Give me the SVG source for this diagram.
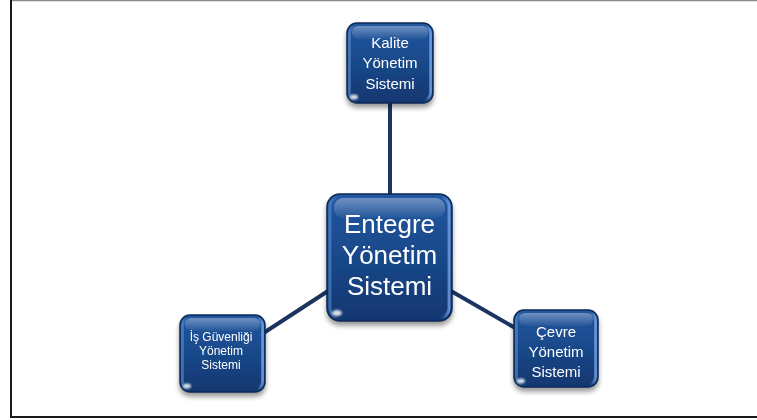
<svg xmlns="http://www.w3.org/2000/svg" width="757" height="420" viewBox="0 0 757 420">
  <defs>
    <linearGradient id="bodyFill" x1="0" y1="0" x2="0" y2="1">
      <stop offset="0" stop-color="#2257a0"/>
      <stop offset="0.45" stop-color="#1a4a8c"/>
      <stop offset="1" stop-color="#113670"/>
    </linearGradient>
    <linearGradient id="edgeFill" x1="0" y1="0" x2="1" y2="0">
      <stop offset="0" stop-color="#6b9ee0" stop-opacity="0.5"/>
      <stop offset="0.07" stop-color="#6b9ee0" stop-opacity="0"/>
      <stop offset="0.93" stop-color="#6b9ee0" stop-opacity="0"/>
      <stop offset="1" stop-color="#7aaaf0" stop-opacity="0.75"/>
    </linearGradient>
    <linearGradient id="gloss" x1="0" y1="0" x2="0" y2="1">
      <stop offset="0" stop-color="#ffffff" stop-opacity="0.35"/>
      <stop offset="1" stop-color="#ffffff" stop-opacity="0.03"/>
    </linearGradient>
    <filter id="shadow" x="-20%" y="-20%" width="140%" height="150%">
      <feGaussianBlur in="SourceAlpha" stdDeviation="2.5"/>
      <feOffset dx="0" dy="4" result="b"/>
      <feComponentTransfer><feFuncA type="linear" slope="0.4"/></feComponentTransfer>
      <feMerge><feMergeNode/><feMergeNode in="SourceGraphic"/></feMerge>
    </filter>
    <filter id="soft" x="-50%" y="-50%" width="200%" height="200%">
      <feGaussianBlur stdDeviation="1"/>
    </filter>
  </defs>
  <style>
    .link { stroke: #1b3560; stroke-width: 4; stroke-linecap: butt; }
    .body { fill: url(#bodyFill); stroke: #0c2a55; stroke-width: 1.5; }
    .edge { fill: none; stroke: url(#edgeFill); stroke-width: 3; }
    .gloss { fill: url(#gloss); }
    .glint { fill: #ffffff; opacity: 0.85; }
    .label { fill: #ffffff; font-family: "Liberation Sans", "Open Sans", Arial, sans-serif; text-anchor: middle; }
  </style>

  <!-- page frame -->
  <rect x="0" y="0" width="757" height="420" fill="#ffffff"/>
  <line x1="11" y1="0.5" x2="757" y2="0.5" stroke="#8a8a8a" stroke-width="1.5"/>
  <line x1="11" y1="0" x2="11" y2="418" stroke="#1a1a1a" stroke-width="2"/>
  <line x1="10" y1="417" x2="757" y2="417" stroke="#1a1a1a" stroke-width="2"/>

  <!-- connectors -->
  <g id="connectors">
    <line class="link" x1="390" y1="102" x2="390" y2="195"/>
    <line class="link" x1="328" y1="291" x2="262" y2="334"/>
    <line class="link" x1="451" y1="291" x2="517" y2="329"/>
  </g>

  <!-- central node -->
  <g id="node-entegre" filter="url(#shadow)">
    <rect class="body" x="327" y="194" width="125" height="127" rx="13"/>
    <rect class="edge" x="330" y="197" width="119" height="121" rx="10"/>
    <rect class="gloss" x="334" y="198" width="111" height="20" rx="9"/>
    <ellipse class="glint" cx="337" cy="313" rx="5" ry="3" filter="url(#soft)"/>
    <text class="label" font-size="26"><tspan x="389.5" y="233">Entegre</tspan><tspan x="389.5" y="264">Yönetim</tspan><tspan x="389.5" y="295">Sistemi</tspan></text>
  </g>

  <!-- top node -->
  <g id="node-kalite" filter="url(#shadow)">
    <rect class="body" x="347" y="23" width="86" height="80" rx="10"/>
    <rect class="edge" x="349.5" y="25.5" width="81" height="75" rx="8"/>
    <rect class="gloss" x="352" y="26" width="76" height="13" rx="6"/>
    <ellipse class="glint" cx="354" cy="97" rx="4" ry="2.5" filter="url(#soft)"/>
    <text class="label" font-size="15"><tspan x="390" y="48">Kalite</tspan><tspan x="390" y="68">Yönetim</tspan><tspan x="390" y="89">Sistemi</tspan></text>
  </g>

  <!-- lower left node -->
  <g id="node-is-guvenligi" filter="url(#shadow)">
    <rect class="body" x="180" y="315" width="85" height="77" rx="10"/>
    <rect class="edge" x="182.5" y="317.5" width="80" height="72" rx="8"/>
    <rect class="gloss" x="185" y="318" width="75" height="13" rx="6"/>
    <ellipse class="glint" cx="187" cy="386" rx="4" ry="2.5" filter="url(#soft)"/>
    <text class="label" font-size="12"><tspan x="221" y="341">İş Güvenliği</tspan><tspan x="221" y="355">Yönetim</tspan><tspan x="221" y="369">Sistemi</tspan></text>
  </g>

  <!-- lower right node -->
  <g id="node-cevre" filter="url(#shadow)">
    <rect class="body" x="514" y="310" width="84" height="77" rx="10"/>
    <rect class="edge" x="516.5" y="312.5" width="79" height="72" rx="8"/>
    <rect class="gloss" x="519" y="313" width="74" height="13" rx="6"/>
    <ellipse class="glint" cx="521" cy="381" rx="4" ry="2.5" filter="url(#soft)"/>
    <text class="label" font-size="15"><tspan x="556" y="337">Çevre</tspan><tspan x="556" y="357">Yönetim</tspan><tspan x="556" y="377">Sistemi</tspan></text>
  </g>
</svg>
